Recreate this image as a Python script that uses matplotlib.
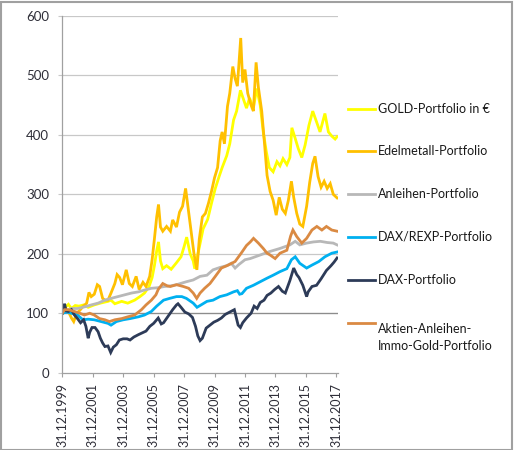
# coding: utf-8
import matplotlib
matplotlib.use('Agg')
import matplotlib.pyplot as plt
from matplotlib.lines import Line2D
from matplotlib.patches import Rectangle

plt.rcParams['font.family'] = ['Lato', 'DejaVu Sans']

# time axis: years since 31.12.1999
tick_pos = [0, 2, 4, 6, 8, 10, 12, 14, 16, 18]
tick_labels = ['31.12.1999', '31.12.2001', '31.12.2003', '31.12.2005', '31.12.2007',
               '31.12.2009', '31.12.2011', '31.12.2013', '31.12.2015', '31.12.2017']
y_ticks = [0, 100, 200, 300, 400, 500, 600]

names = ['GOLD-Portfolio in €', 'Edelmetall-Portfolio', 'Anleihen-Portfolio',
         'DAX/REXP-Portfolio', 'DAX-Portfolio', 'Aktien-Anleihen-\nImmo-Gold-Portfolio']
colors = ['#FFFF00', '#FFC000', '#B8B8B8', '#00B0F0', '#2D3B58', '#DA8A43']

gold_t = [0.0, 0.2, 0.4, 0.6, 0.85, 1.1, 1.4, 1.7, 2.1, 2.5, 3.0, 3.2, 3.45, 3.9, 4.3,
          4.75, 5.1, 5.4, 5.7, 5.9, 6.05, 6.2, 6.32, 6.45, 6.6, 6.85, 7.15, 7.5, 7.8,
          8.0, 8.17, 8.4, 8.6, 8.7, 8.95, 9.25, 9.55, 9.8, 10.05, 10.3, 10.5, 10.8,
          11.0, 11.25, 11.45, 11.7, 11.9, 12.1, 12.3, 12.55, 12.77, 13.0, 13.2, 13.4,
          13.6, 13.85, 14.1, 14.3, 14.5, 14.75, 14.95, 15.08, 15.3, 15.5, 15.73, 15.95,
          16.2, 16.45, 16.7, 16.93, 17.25, 17.48, 17.7, 17.92, 18.05]
gold_v = [100, 110, 115, 108, 113, 112, 114, 110, 114, 117, 120, 122, 116, 120, 117,
          122, 128, 134, 145, 160, 180, 205, 220, 188, 175, 180, 174, 185, 195,
          212, 228, 200, 188, 175, 205, 242, 258, 285, 310, 330, 345, 365,
          385, 425, 440, 475, 460, 445, 462, 445, 478, 450, 405, 372,
          345, 338, 355, 348, 360, 350, 362, 412, 394, 377, 362, 383,
          416, 440, 422, 405, 436, 405, 398, 393, 397]

edel_t = [0.0, 0.2, 0.4, 0.6, 0.75, 0.95, 1.15, 1.35, 1.6, 1.75, 1.9, 2.1, 2.3, 2.45,
          2.65, 2.8, 3.0, 3.2, 3.45, 3.6, 3.77, 3.95, 4.2, 4.4, 4.6, 4.85, 5.05, 5.3,
          5.5, 5.74, 5.9, 6.05, 6.2, 6.32, 6.45, 6.6, 6.85, 7.1, 7.25, 7.5, 7.7, 7.9,
          8.1, 8.25, 8.45, 8.65, 8.84, 9.0, 9.2, 9.4, 9.6, 9.8, 10.0, 10.2, 10.37,
          10.5, 10.65, 10.85, 11.0, 11.2, 11.35, 11.5, 11.72, 11.85, 12.0, 12.18,
          12.4, 12.55, 12.73, 12.88, 13.1, 13.3, 13.45, 13.65, 13.85, 14.05, 14.25,
          14.45, 14.65, 14.85, 15.05, 15.2, 15.4, 15.6, 15.8, 16.05, 16.25, 16.45,
          16.6, 16.8, 17.0, 17.2, 17.4, 17.6, 17.8, 18.05]
edel_v = [100, 108, 103, 92, 86, 100, 105, 111, 117, 135, 128, 132, 148, 145,
          125, 122, 122, 134, 150, 165, 160, 148, 173, 150, 145, 162, 140, 152,
          145, 162, 190, 225, 262, 283, 245, 238, 246, 238, 257, 245, 270, 280,
          310, 280, 240, 200, 173, 225, 262, 268, 285, 305, 328, 345, 390,
          405, 385, 448, 470, 515, 495, 482, 563, 488, 510, 470,
          450, 440, 522, 480, 440, 380, 332, 305, 290, 265, 295,
          275, 268, 290, 322, 295, 268, 250, 246, 280, 320, 352,
          364, 330, 312, 322, 310, 318, 300, 294]

anl_t = [0.0, 0.3, 0.6, 1.0, 1.5, 1.9, 2.35, 2.8, 3.2, 3.65, 4.1, 4.55, 5.0, 5.4,
         5.85, 6.3, 6.7, 7.1, 7.5, 8.15, 8.6, 9.05, 9.5, 9.9, 10.35, 10.8, 11.1,
         11.35, 11.6, 12.0, 12.35, 13.0, 13.65, 14.3, 14.95, 15.3, 15.6, 16.05,
         16.5, 16.95, 17.4, 17.8, 18.05]
anl_v = [100, 104, 108, 108, 111, 114, 117, 122, 125, 128, 131, 134, 136, 139,
         142, 143, 145, 146, 148, 153, 156, 162, 164, 173, 177, 180, 184,
         176, 182, 190, 192, 198, 204, 209, 215, 221, 215, 218,
         220, 221, 219, 218, 215]

rexp_t = [0.0, 0.3, 0.6, 1.0, 1.35, 1.7, 2.1, 2.55, 3.0, 3.2, 3.55, 4.0, 4.45, 5.0,
          5.4, 5.85, 6.2, 6.65, 7.05, 7.5, 7.85, 8.15, 8.6, 8.85, 9.05, 9.5, 9.9,
          10.35, 10.8, 11.25, 11.5, 11.65, 11.8, 12.1, 12.55, 13.0, 13.45, 13.85,
          14.3, 14.75, 15.05, 15.3, 15.6, 16.05, 16.4, 16.85, 17.25, 17.7, 18.05]
rexp_v = [100, 102, 100, 97, 89, 90, 89, 86, 83, 80, 86, 89, 91, 94,
          97, 103, 112, 122, 125, 128, 128, 125, 117, 110, 113, 120, 122,
          128, 131, 136, 138, 132, 133, 142, 147, 153, 159, 164,
          170, 175, 190, 195, 184, 176, 181, 187, 195, 201, 203]

dax_t = [0.0, 0.08, 0.15, 0.25, 0.4, 0.6, 0.8, 1.0, 1.2, 1.4, 1.55, 1.7, 1.8, 1.95,
         2.15, 2.35, 2.5, 2.65, 2.8, 3.0, 3.18, 3.35, 3.55, 3.75, 4.0, 4.25, 4.45,
         4.7, 5.0, 5.25, 5.5, 5.75, 6.0, 6.3, 6.5, 6.65, 6.95, 7.25, 7.5, 7.6, 7.8,
         8.05, 8.3, 8.55, 8.75, 8.9, 9.05, 9.2, 9.45, 9.7, 9.95, 10.2, 10.45, 10.7,
         11.0, 11.3, 11.55, 11.7, 11.85, 12.1, 12.4, 12.6, 12.8, 13.0, 13.25, 13.45,
         13.7, 13.95, 14.2, 14.45, 14.65, 14.95, 15.2, 15.4, 15.55, 15.8, 16.05,
         16.15, 16.4, 16.7, 17.0, 17.35, 17.65, 17.85, 18.05]
dax_v = [100, 108, 116, 104, 103, 106, 97, 91, 84, 89, 78, 58, 68, 76,
         76, 69, 58, 50, 44, 45, 34, 43, 47, 55, 57, 57, 55,
         60, 64, 67, 70, 78, 83, 92, 82, 84, 95, 106, 114, 116, 110,
         102, 99, 93, 78, 62, 54, 58, 75, 80, 85, 88, 92, 98,
         102, 106, 80, 76, 84, 92, 100, 112, 108, 118, 122, 130,
         134, 140, 145, 137, 134, 155, 176, 165, 160, 147, 128,
         136, 145, 147, 158, 172, 180, 186, 193]

mix_t = [0.0, 0.15, 0.4, 0.8, 1.15, 1.45, 1.8, 2.1, 2.45, 2.8, 3.1, 3.45, 3.9, 4.3,
         4.75, 5.2, 5.5, 5.85, 6.15, 6.3, 6.6, 6.9, 7.1, 7.5, 7.95, 8.3, 8.6, 8.83,
         9.05, 9.35, 9.7, 10.05, 10.45, 10.9, 11.35, 11.75, 12.1, 12.35, 12.56,
         12.88, 13.2, 13.45, 13.65, 13.98, 14.3, 14.75, 15.0, 15.15, 15.4, 15.73,
         16.05, 16.4, 16.72, 17.05, 17.35, 17.7, 18.05]
mix_v = [100, 106, 106, 103, 100, 97, 100, 97, 91, 89, 86, 89, 91, 94,
         97, 106, 114, 122, 131, 140, 150, 146, 145, 148, 145, 142, 134, 125,
         134, 142, 150, 162, 176, 181, 187, 201, 214, 220, 226,
         218, 209, 201, 198, 192, 201, 206, 230, 240, 229, 218,
         226, 240, 246, 240, 246, 240, 238]

series = [(gold_t, gold_v), (edel_t, edel_v), (anl_t, anl_v),
          (rexp_t, rexp_v), (dax_t, dax_v), (mix_t, mix_v)]

W, H = 514, 450
fig = plt.figure(figsize=(W / 100, H / 100), dpi=100)
ax = fig.add_axes([62.3 / W, 1 - 372.7 / H, (338 - 62.3) / W, (372.7 - 16) / H])

# gridlines, 100-line a bit darker
for yv in y_ticks[1:]:
    ax.axhline(yv, color='#C8C8C8', lw=0.9, zorder=0)
ax.axhline(100, color='#8C8C8C', lw=0.9, zorder=0.5)

for (t, v), c in zip(series, colors):
    ax.plot(t, v, color=c, lw=2.0, solid_joinstyle='miter')

ax.set_xlim(0, 18.11)
ax.set_ylim(0, 600)
ax.set_xticks(tick_pos)
ax.set_xticklabels(tick_labels, rotation=90)
ax.set_yticks(y_ticks)

for s in ['top', 'right']:
    ax.spines[s].set_visible(False)
for s in ['left', 'bottom']:
    ax.spines[s].set_color('#A0A0A0')
    ax.spines[s].set_linewidth(0.9)
ax.tick_params(axis='x', length=3, width=0.8, color='#A0A0A0', pad=4.5,
               labelsize=9, labelcolor='#2E2E38')
ax.tick_params(axis='y', length=3, width=0.8, color='#C8C8C8', pad=6.5,
               labelsize=9.5, labelcolor='#2E2E38')

# legend on the right, drawn by hand so the handle sits on the first text line
leg_y = [109, 151, 194, 237, 280, 323]
for name, c, yy in zip(names, colors, leg_y):
    fig.add_artist(Line2D([348 / W, 375 / W], [1 - yy / H, 1 - yy / H], color=c, lw=2))
    fig.text(378 / W, 1 - yy / H, name, fontsize=9, color='#1A1A1A',
             va='top' if '\n' in name else 'center', linespacing=1.45,
             transform=fig.transFigure)

# thin grey frame around the whole picture
fig.add_artist(Rectangle((0.5 / W, 0.5 / H), 1 - 2.5 / W, 1 - 2.5 / H, transform=fig.transFigure,
                         fill=False, ec='#A0A0A0', lw=1.5))

fig.savefig('out.png', dpi=100)
